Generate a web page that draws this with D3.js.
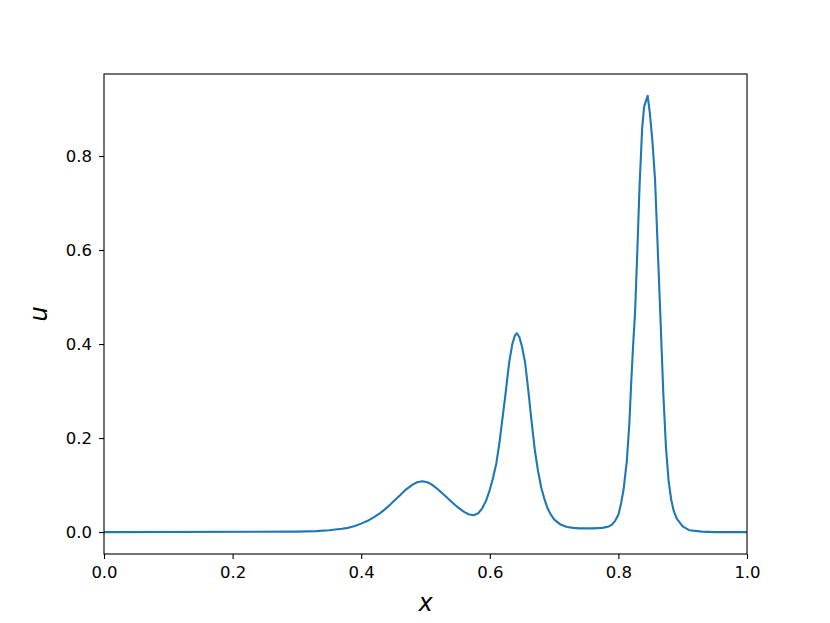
<!DOCTYPE html>
<html>
<head>
<meta charset="utf-8">
<script src="https://cdn.jsdelivr.net/npm/d3@7"></script>
<style>
  body { margin: 0; background: #fff; }
  svg { display: block; font-family: 'DejaVu Sans', sans-serif; }
</style>
</head>
<body>
<div id="container"></div>
<script>
const xs = [0.00, 0.30, 0.33, 0.35, 0.37, 0.38, 0.39, 0.40, 0.41, 0.42, 0.43, 0.44, 0.45,
  0.46, 0.47, 0.48, 0.487, 0.495, 0.503, 0.51, 0.52, 0.53, 0.54, 0.55, 0.56, 0.567, 0.575,
  0.582, 0.588, 0.594, 0.60, 0.605, 0.61, 0.615, 0.62, 0.625, 0.63, 0.635, 0.639, 0.642,
  0.646, 0.65, 0.655, 0.66, 0.665, 0.67, 0.675, 0.68, 0.685, 0.69, 0.695, 0.70, 0.71, 0.72,
  0.73, 0.74, 0.76, 0.775, 0.785, 0.79, 0.795, 0.80, 0.804, 0.808, 0.813, 0.817, 0.82,
  0.823, 0.826, 0.83, 0.833, 0.837, 0.840, 0.8455, 0.849, 0.853, 0.857, 0.861, 0.865,
  0.870, 0.874, 0.878, 0.882, 0.886, 0.891, 0.90, 0.91, 0.93, 0.95, 1.00];
const us = [0, 0.001, 0.002, 0.004, 0.007, 0.009, 0.013, 0.018, 0.024, 0.032, 0.041, 0.052, 0.065,
  0.078, 0.091, 0.101, 0.106, 0.108, 0.106, 0.101, 0.090, 0.078, 0.065, 0.053, 0.043, 0.038, 0.036,
  0.040, 0.050, 0.066, 0.09, 0.115, 0.145, 0.19, 0.245, 0.30, 0.36, 0.40, 0.418, 0.423,
  0.415, 0.395, 0.36, 0.30, 0.235, 0.175, 0.13, 0.095, 0.07, 0.050, 0.037, 0.027, 0.016, 0.011,
  0.009, 0.008, 0.008, 0.009, 0.012, 0.016, 0.024, 0.037, 0.06, 0.09, 0.15, 0.23, 0.32,
  0.40, 0.47, 0.62, 0.74, 0.86, 0.905, 0.928, 0.89, 0.83, 0.75, 0.61, 0.47,
  0.29, 0.18, 0.11, 0.07, 0.045, 0.028, 0.012, 0.004, 0.001, 0, 0];
const xTicks = [0.0, 0.2, 0.4, 0.6, 0.8, 1.0];
const yTicks = [0.0, 0.2, 0.4, 0.6, 0.8];

const width = 830;
const height = 623;
const margin = {left: 104, right: 83, top: 74, bottom: 69};

const svg = d3.select('#container').append('svg')
  .attr('width', width)
  .attr('height', height);

const x = d3.scaleLinear()
  .domain([0, 1])
  .range([margin.left, width - margin.right]);

const y = d3.scaleLinear()
  .domain([-0.0466, 0.9745])
  .range([height - margin.bottom, margin.top]);

const data = xs.map((v, i) => ({x: v, u: us[i]}));

const line = d3.line()
  .x(d => x(d.x))
  .y(d => y(d.u));

svg.append('path')
  .datum(data)
  .attr('fill', 'none')
  .attr('stroke', '#1f77b4')
  .attr('stroke-width', 2.1)
  .attr('stroke-linejoin', 'round')
  .attr('d', line);

// axes
const xAxis = svg.append('g')
  .attr('transform', `translate(0,${height - margin.bottom})`)
  .call(d3.axisBottom(x).tickValues(xTicks).tickFormat(d3.format('.1f')).tickSize(5).tickPadding(7));

const yAxis = svg.append('g')
  .attr('transform', `translate(${margin.left},0)`)
  .call(d3.axisLeft(y).tickValues(yTicks).tickFormat(d3.format('.1f')).tickSize(5).tickPadding(7));

[xAxis, yAxis].forEach(g => {
  g.select('.domain').remove();
  g.selectAll('line').attr('stroke', '#000').attr('stroke-width', 1.1);
  g.selectAll('text').attr('font-size', 16.5).attr('fill', '#000')
    .attr('font-family', "'DejaVu Sans', sans-serif");
});

// frame
svg.append('rect')
  .attr('x', margin.left)
  .attr('y', margin.top)
  .attr('width', width - margin.left - margin.right)
  .attr('height', height - margin.top - margin.bottom)
  .attr('fill', 'none')
  .attr('stroke', '#000')
  .attr('stroke-width', 1.1);

svg.append('text')
  .attr('x', (margin.left + width - margin.right) / 2)
  .attr('y', 611)
  .attr('text-anchor', 'middle')
  .attr('font-size', 24)
  .attr('font-style', 'italic')
  .text('x');

svg.append('text')
  .attr('transform', `translate(47,${(margin.top + height - margin.bottom) / 2}) rotate(-90)`)
  .attr('text-anchor', 'middle')
  .attr('font-size', 24)
  .attr('font-style', 'italic')
  .text('u');
</script>
</body>
</html>
